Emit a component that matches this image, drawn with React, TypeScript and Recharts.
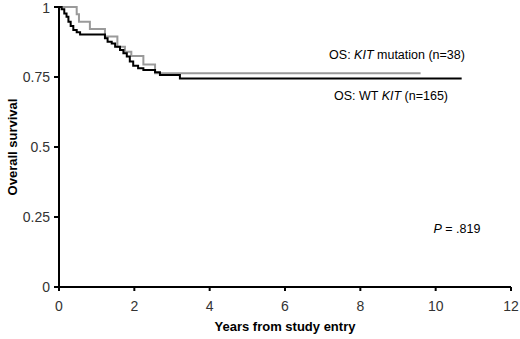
import React from "react";
import { LineChart, Line, XAxis, YAxis } from "recharts";

const mutTimes = [0, 0.47, 0.53, 0.82, 1.22, 1.55, 1.75, 1.92, 2.24, 2.55, 9.6];
const mutSurv = [1, 0.974, 0.947, 0.921, 0.895, 0.858, 0.84, 0.825, 0.795, 0.763, 0.763];

const wtTimes = [0, 0.07, 0.14, 0.2, 0.25, 0.31, 0.38, 0.47, 0.56, 1.22, 1.29, 1.4, 1.49, 1.62, 1.71, 1.8, 1.88, 1.97, 2.1, 2.24, 2.55, 2.68, 3.21, 10.69];
const wtSurv = [1, 0.992, 0.977, 0.965, 0.947, 0.932, 0.918, 0.91, 0.902, 0.888, 0.876, 0.87, 0.858, 0.846, 0.835, 0.823, 0.805, 0.79, 0.781, 0.775, 0.767, 0.757, 0.745, 0.745];

const xTicks = [0, 2, 4, 6, 8, 10, 12];
const yTicks = [0, 0.25, 0.5, 0.75, 1];

const mutData = mutTimes.map((t, i) => ({ t, s: mutSurv[i] }));
const wtData = wtTimes.map((t, i) => ({ t, s: wtSurv[i] }));

const font = "Liberation Sans, Arial, sans-serif";

export default function App() {
  return (
    <div style={{ position: "absolute", left: 0, top: 0, width: 520, height: 339, background: "#fff" }}>
      <LineChart width={520} height={339} margin={{ top: 7, right: 9, left: 0, bottom: 0 }}>
        <XAxis
          type="number"
          dataKey="t"
          domain={[0, 12]}
          ticks={xTicks}
          allowDataOverflow
          height={52}
          axisLine={{ stroke: "#000", strokeWidth: 2 }}
          tickLine={{ stroke: "#000", strokeWidth: 2 }}
          tickSize={4}
          tickMargin={10}
          tick={{ fontSize: 14, fill: "#333", fontFamily: font }}
        />
        <YAxis
          type="number"
          dataKey="s"
          domain={[0, 1]}
          ticks={yTicks}
          width={59}
          axisLine={{ stroke: "#000", strokeWidth: 2 }}
          tickLine={{ stroke: "#000", strokeWidth: 2 }}
          tickSize={5}
          tickMargin={4}
          tick={{ fontSize: 14, fill: "#333", fontFamily: font }}
        />
        <Line data={mutData} dataKey="s" type="stepAfter" stroke="#9a9a9a" strokeWidth={2} dot={false} isAnimationActive={false} />
        <Line data={wtData} dataKey="s" type="stepAfter" stroke="#000" strokeWidth={2} dot={false} isAnimationActive={false} />
        <text x={285} y={331} textAnchor="middle" fontSize={13} fontWeight="bold" fill="#000" fontFamily={font}>
          Years from study entry
        </text>
        <text x={17} y={147} transform="rotate(-90 17 147)" textAnchor="middle" fontSize={13} fontWeight="bold" fill="#000" fontFamily={font}>
          Overall survival
        </text>
        <text x={397} y={59} textAnchor="middle" fontSize={12.5} fill="#000" fontFamily={font}>
          OS: <tspan fontStyle="italic">KIT</tspan> mutation (n=38)
        </text>
        <text x={391} y={100} textAnchor="middle" fontSize={12.5} fill="#000" fontFamily={font}>
          OS: WT <tspan fontStyle="italic">KIT</tspan> (n=165)
        </text>
        <text x={457} y={233} textAnchor="middle" fontSize={12.5} fill="#000" fontFamily={font}>
          <tspan fontStyle="italic">P</tspan> = .819
        </text>
      </LineChart>
    </div>
  );
}
